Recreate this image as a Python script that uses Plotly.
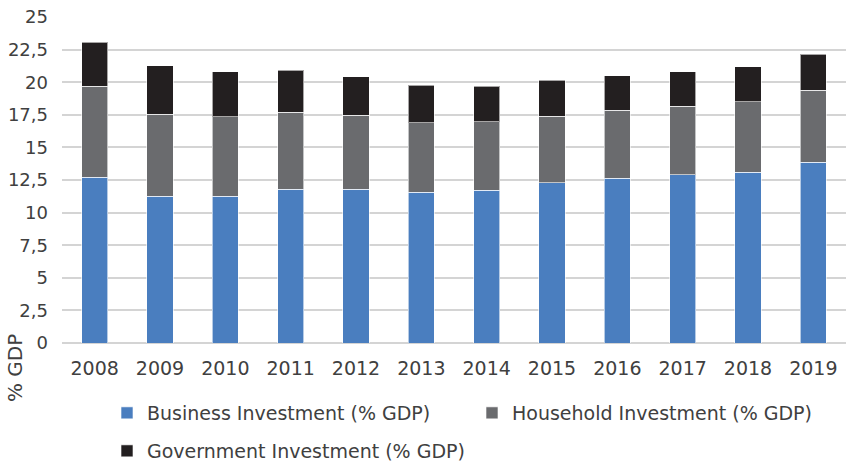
import plotly.graph_objects as go

years = ["2008", "2009", "2010", "2011", "2012", "2013", "2014", "2015", "2016", "2017", "2018", "2019"]
business = [12.7, 11.25, 11.25, 11.8, 11.8, 11.55, 11.7, 12.3, 12.65, 12.9, 13.1, 13.85]
household = [7.0, 6.3, 6.1, 5.9, 5.65, 5.35, 5.25, 5.1, 5.2, 5.25, 5.4, 5.55]
government = [3.35, 3.7, 3.45, 3.2, 2.95, 2.85, 2.75, 2.75, 2.65, 2.65, 2.7, 2.75]

names = ["Business Investment (% GDP)", "Household Investment (% GDP)", "Government Investment (% GDP)"]
colors = ["#4a7ebf", "#6a6b6e", "#231f20"]
tick_vals = [0, 2.5, 5, 7.5, 10, 12.5, 15, 17.5, 20, 22.5, 25]
tick_text = ["0", "2,5", "5", "7,5", "10", "12,5", "15", "17,5", "20", "22,5", "25"]

FONT = "DejaVu Sans"
TXT = "#404040"

fig = go.Figure()
series = [business, household, government]
legends = ["legend", "legend", "legend2"]
for vals, name, col, lg in zip(series, names, colors, legends):
    fig.add_trace(go.Bar(
        x=years, y=vals, name=name,
        marker=dict(color=col, line=dict(color="rgba(255,255,255,0.6)", width=1)),
        legend=lg,
    ))

fig.update_layout(
    barmode="stack",
    bargap=0.6,
    width=846, height=461,
    margin=dict(l=62, r=0, t=17, b=118),
    paper_bgcolor="white", plot_bgcolor="white",
    font=dict(family=FONT, size=18, color=TXT),
    xaxis=dict(
        type="category", showgrid=False, ticks="", showline=False,
        ticklabelstandoff=12,
        tickfont=dict(size=19, color=TXT),
    ),
    yaxis=dict(
        range=[0, 25], tickvals=tick_vals, ticktext=tick_text,
        showgrid=True, gridcolor="#d4d4d4", gridwidth=1.5,
        zeroline=True, zerolinecolor="#d4d4d4", zerolinewidth=1.5,
        ticks="", ticklabelstandoff=13,
        tickfont=dict(size=18, color=TXT),
    ),
    legend=dict(
        orientation="h", xref="container", yref="container",
        x=107 / 846, y=1 - 413 / 461, xanchor="left", yanchor="middle",
        traceorder="normal",
        entrywidth=320, font=dict(size=19, color=TXT),
    ),
    legend2=dict(
        orientation="h", xref="container", yref="container",
        x=107 / 846, y=1 - 451 / 461, xanchor="left", yanchor="middle",
        font=dict(size=19, color=TXT),
    ),
    annotations=[dict(
        text="% GDP", textangle=-90, xref="paper", yref="paper",
        x=-62 / 784 + 15 / 784, y=-25 / 326,
        xanchor="center", yanchor="middle", showarrow=False,
        font=dict(size=20, color=TXT),
    )],
)

fig.write_html("out.html")
